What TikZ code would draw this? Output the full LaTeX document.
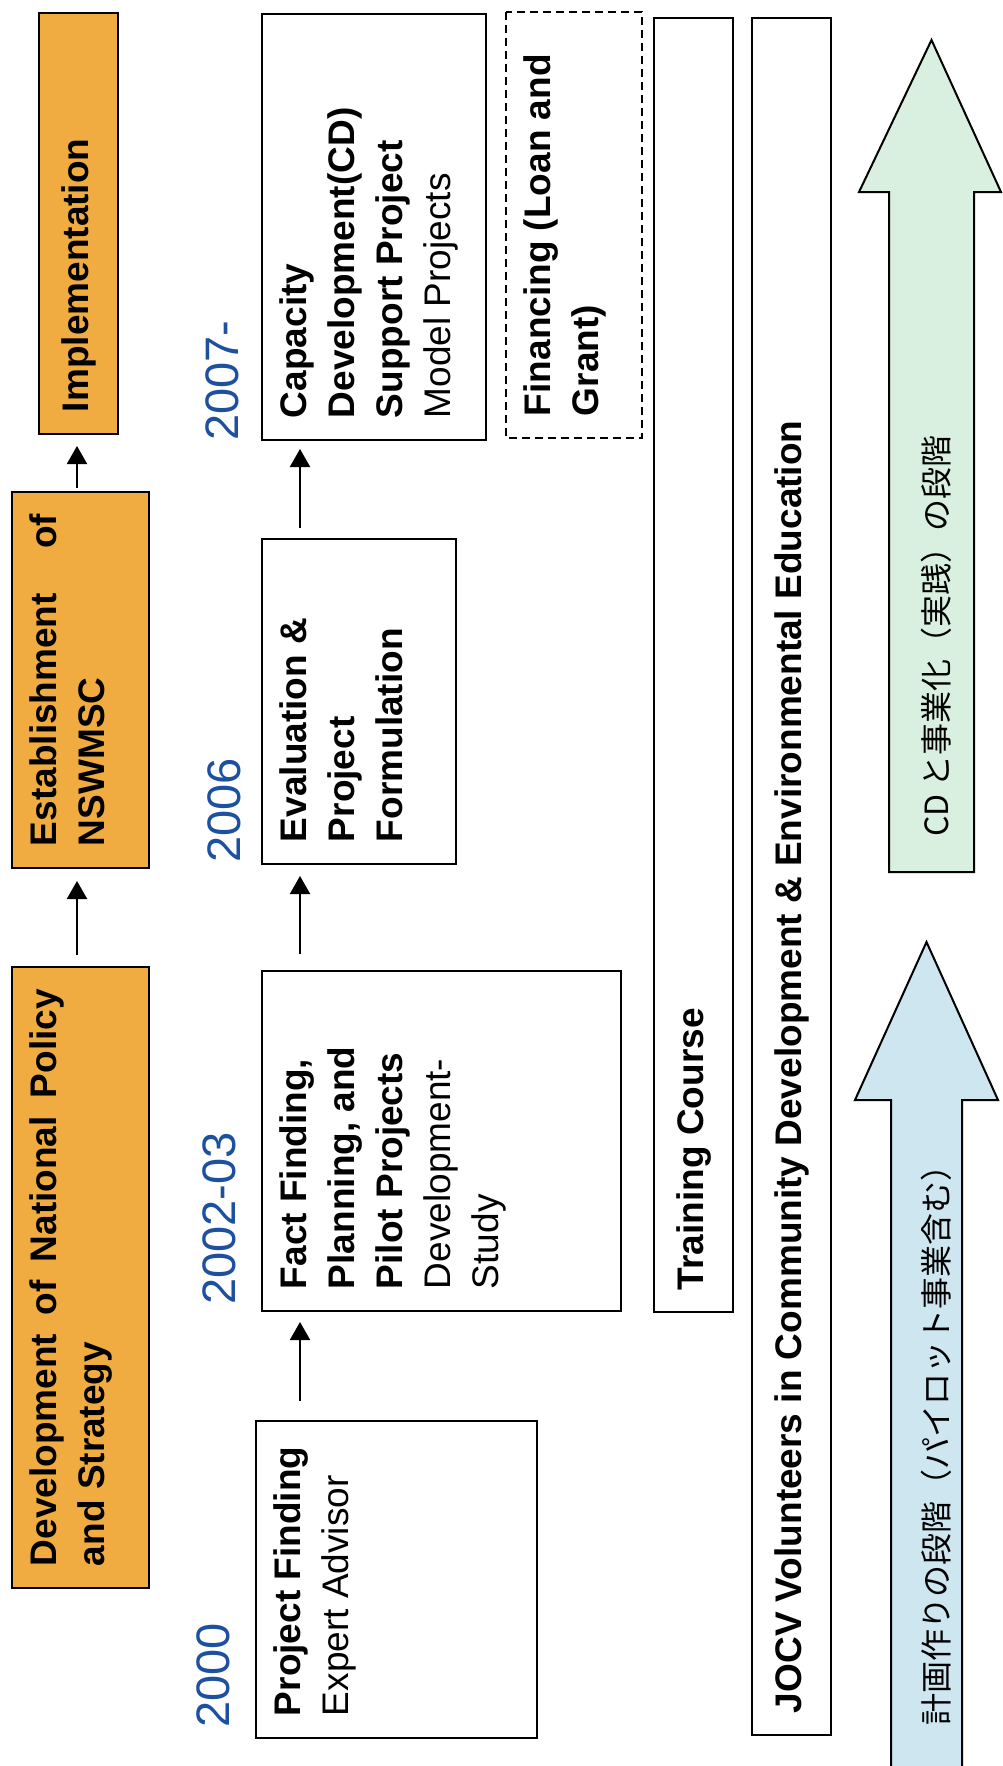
\documentclass[tikz,border=0pt]{standalone}
\usepackage{fontspec}
\setmainfont{Liberation Sans}
\newfontfamily\jpfont{Noto Sans CJK JP}
\usetikzlibrary{arrows.meta}
\definecolor{orangefill}{RGB}{240,172,64}
\definecolor{bluefill}{RGB}{205,230,240}
\definecolor{greenfill}{RGB}{217,240,224}
\definecolor{yearblue}{RGB}{30,80,160}
\newcommand{\bxt}[3]{\parbox[c][#2][t]{#1}{\raggedright\strut#3}}
\newcommand{\bxc}[3]{\parbox[c][#2][c]{#1}{\raggedright\strut#3}}
\begin{document}
\begin{tikzpicture}[x=0.5pt,y=-0.5pt,
  box/.style={draw=black, line width=1pt, rotate=90, inner xsep=11pt, inner ysep=5.5pt, font=\fontsize{18.5}{24}\selectfont},
  orangebox/.style={box, fill=orangefill},
  dashbox/.style={box, line width=0.8pt, dash pattern=on 4pt off 2.5pt},
  year/.style={rotate=90, inner sep=0pt, text=yearblue, font=\fontsize{23.5}{28}\selectfont},
  jp/.style={rotate=90, inner sep=0pt, font=\jpfont\fontsize{16}{20}\selectfont},
  conn/.style={line width=1pt, -{Triangle[width=10pt,length=9pt]}},
  bigarrow/.style={line width=1pt, line join=miter}
]
\useasboundingbox[fill=white] (0,0) rectangle (1002,1766);

% big stage arrows
\path[fill=greenfill, draw=black, bigarrow] (889,872) -- (889,192) -- (859,192) -- (931.5,40) -- (1001,192) -- (974,192) -- (974,872) -- cycle;
\fill[bluefill] (891,1766) -- (891,1100) -- (855,1100) -- (926.5,942) -- (998,1100) -- (962,1100) -- (962,1766) -- cycle;
\draw[bigarrow] (891,1770) -- (891,1100) -- (855,1100) -- (926.5,942) -- (998,1100) -- (962,1100) -- (962,1770);
\node[jp, anchor=west] (cdstage) at (936,837) {CD と事業化（実践）の段階};
\node[jp, anchor=west] (planstage) at (936,1726) {計画作りの段階（パイロット事業含む）};

% top row (orange)
\node[orangebox] (impl) at (78.5,223.5) {\bxc{188.5pt}{28.5pt}{\textbf{Implementation}}};
\node[orangebox] (est) at (80.5,680) {\bxt{166pt}{57.5pt}{\hbox to\linewidth{\bfseries Establishment\hfill of}\\\textbf{NSWMSC}}};
\node[orangebox] (dev) at (80.5,1277.5) {\bxt{288.5pt}{57.5pt}{\hbox to\linewidth{\bfseries Development\hfill of\hfill National\hfill Policy}\\\textbf{and Strategy}}};

% project boxes
\node[box] (cd) at (374,227) {\bxt{191pt}{101pt}{\mbox{\bfseries Capacity}\\\mbox{\bfseries Development(CD)}\\\mbox{\bfseries Support Project}\\\mbox{Model Projects}}};
\node[box] (eval) at (359,701.5) {\bxt{140.5pt}{86pt}{\mbox{\bfseries Evaluation \&}\\\mbox{\bfseries Project}\\\mbox{\bfseries Formulation}}};
\node[box] (ff) at (441.5,1141) {\bxt{148pt}{168.5pt}{\mbox{\bfseries Fact Finding,}\\\mbox{\bfseries Planning, and}\\\mbox{\bfseries Pilot Projects}\\\mbox{Development-}\\\mbox{Study}}};
\node[box] (pf) at (396.5,1579.5) {\bxt{136.5pt}{129.5pt}{\mbox{\bfseries Project Finding}\\\mbox{Expert Advisor}}};
\node[dashbox] (fin) at (574,225) {\bxt{191pt}{57pt}{\mbox{\bfseries Financing (Loan and}\\\mbox{\bfseries Grant)}}};
\node[box] (train) at (693.5,665) {\bxc{625pt}{28.5pt}{\textbf{Training Course}}};
\node[box] (jocv) at (791.5,876.5) {\bxc{836.5pt}{28.5pt}{\textbf{JOCV Volunteers in Community Development \& Environmental Education}}};

% years
\node[year, anchor=base west] (y2000) at (229,1728) {2000};
\node[year, anchor=base west] (y2002) at (235,1305) {2002-03};
\node[year, anchor=base west] (y2006) at (240,863) {2006};
\node[year, anchor=base west] (y2007) at (238,441) {2007-};

% connectors
\coordinate (ox) at (77,0);
\coordinate (bx) at (300,0);
\draw[conn, shorten <=5.5pt, shorten >=6pt] (dev.east -| ox) -- (est.west -| ox);
\draw[conn, shorten <=1.5pt, shorten >=5.5pt] (est.east -| ox) -- (impl.west -| ox);
\draw[conn, shorten <=9.5pt, shorten >=5pt] (pf.east -| bx) -- (ff.west -| bx);
\draw[conn, shorten <=8pt, shorten >=5.5pt] (ff.east -| bx) -- (eval.west -| bx);
\draw[conn, shorten <=5pt, shorten >=4pt] (eval.east -| bx) -- (cd.west -| bx);
\end{tikzpicture}
\end{document}
